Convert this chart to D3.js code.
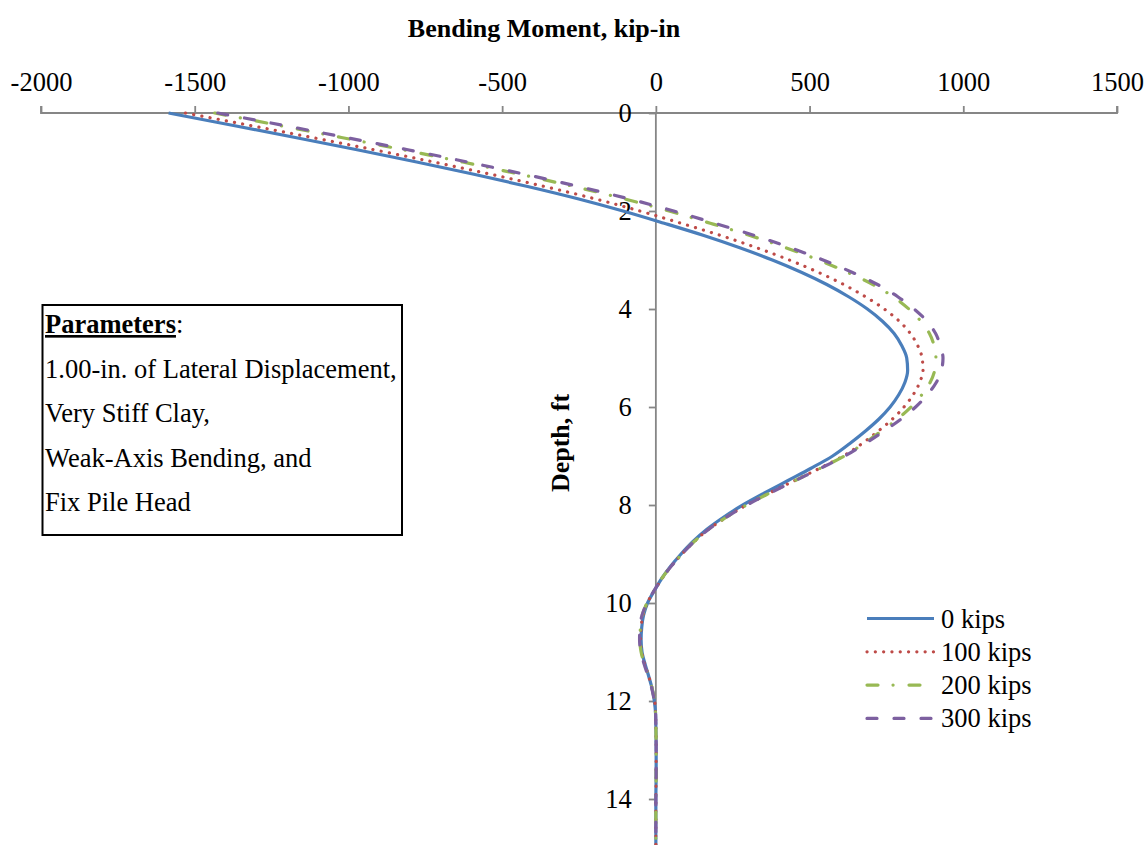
<!DOCTYPE html>
<html>
<head>
<meta charset="utf-8">
<script src="https://cdn.jsdelivr.net/npm/d3@7"></script>
<style>
  html, body { margin: 0; padding: 0; background: #fff; }
  svg { display: block; font-family: "Liberation Serif", "Times New Roman", serif; }
</style>
</head>
<body>
<svg id="chart" width="1148" height="845"></svg>
<script>
// ---- data ----
const depths = [0,0.25,0.5,0.75,1,1.25,1.5,1.75,2,2.25,2.5,2.75,3,3.25,3.5,3.75,4,4.25,4.5,4.75,5,5.25,5.5,5.75,6,6.25,6.5,6.75,7,7.25,7.5,7.75,8,8.25,8.5,8.75,9,9.25,9.5,9.75,10,10.25,10.5,10.75,11,11.25,11.5,11.75,12,12.25,12.5,13,13.5,14,14.5,15];
const m0   = [-1585,-1378,-1173,-972,-778,-592,-417,-254,-107,27,156,273,379,473,556,627,688,737,775,800,816,819,810,790,762,725,680,630,575,505,430,355,283,220,165,120,82,48,19,-5,-27,-40,-46,-48,-45,-35,-23,-12,-5,-1,0,1,1,0,0,0];
const m100 = [-1530,-1323,-1118,-917,-723,-537,-362,-199,-52,82,211,328,434,528,611,682,743,792,828,852,866,869,858,837,807,769,722,670,610,533,452,371,295,229,171,124,85,50,20,-5,-28,-42,-48,-50,-46,-36,-23,-12,-4,-1,0,1,1,0,0,0];
const m200 = [-1435,-1228,-1023,-822,-628,-442,-267,-104,43,177,306,423,529,623,706,772,823,862,890,905,911,907,892,865,830,785,732,675,613,535,453,372,295,229,171,124,85,50,19,-6,-29,-44,-50,-52,-48,-37,-24,-12,-4,-1,0,1,1,0,0,0];
const m300 = [-1425,-1213,-1008,-807,-613,-427,-252,-89,58,192,321,438,544,638,721,787,840,882,910,925,934,929,912,883,845,797,740,680,615,536,454,373,296,229,171,124,85,50,19,-6,-29,-45,-52,-53,-49,-38,-25,-13,-5,-1,0,1,1,0,0,0];
const seriesNames = ["0 kips","100 kips","200 kips","300 kips"];
const xTicks = [-2000,-1500,-1000,-500,0,500,1000,1500];
const yTicks = [0,2,4,6,8,10,12,14];
const xTitle = "Bending Moment, kip-in";
const yTitle = "Depth, ft";
const paramTitle = "Parameters";
const paramLines = ["1.00-in. of Lateral Displacement,","Very Stiff Clay,","Weak-Axis Bending, and","Fix Pile Head"];

// ---- styles ----
const colors = ["#4A7EBB","#BE4B48","#98B954","#7D60A0"];
const dashes = [null, "0.1,8.2", "11,15,0.1,15.9", "10,17"];
const caps = ["butt","round","round","round"];
const axisColor = "#868686";
const FS = 26.5;

const svg = d3.select("#chart");
const x = d3.scaleLinear().domain([-2000,1500]).range([41,1117]);
const y = d3.scaleLinear().domain([0,15]).range([113,848]);

svg.append("defs").append("clipPath").attr("id","clip")
  .append("rect").attr("x",0).attr("y",100).attr("width",1148).attr("height",760);

const fmt = d => String(d);

// X axis (top)
const gx = svg.append("g").attr("transform",`translate(0,${y(0)})`)
  .call(d3.axisTop(x).tickValues(xTicks).tickSize(7).tickPadding(15).tickFormat(fmt));
gx.selectAll("path,line").attr("stroke",axisColor).attr("stroke-width",1.8);
gx.selectAll("text").attr("fill","#000").style("font-size",FS+"px").style("font-family","Liberation Serif");
gx.select(".domain").attr("d",`M${x(-2000)},-7V0H${x(1500)}V-7`);

// Y axis at x=0
const gy = svg.append("g").attr("transform",`translate(${x(0)},0)`)
  .call(d3.axisLeft(y).tickValues(yTicks).tickSize(7).tickPadding(17).tickFormat(fmt));
gy.selectAll("path,line").attr("stroke",axisColor).attr("stroke-width",1.8);
gy.selectAll("text").attr("fill","#000").style("font-size",FS+"px").style("font-family","Liberation Serif");
gy.select(".domain").attr("d",`M-7,${y(0)}H0V${y(15)}`);

// titles
svg.append("text").attr("x",544).attr("y",37).attr("text-anchor","middle")
  .style("font-size","26px").style("font-weight","bold").text(xTitle);
svg.append("text").attr("transform",`translate(569,443) rotate(-90)`).attr("text-anchor","middle")
  .style("font-size","26px").style("font-weight","bold").text(yTitle);

// lines
const allM = [m0,m100,m200,m300];
const line = d3.line().x(d => x(d[1])).y(d => y(d[0])).curve(d3.curveMonotoneY);
const gl = svg.append("g").attr("clip-path","url(#clip)");
allM.forEach((m,i) => {
  const pts = depths.map((d,j) => [d, m[j]]);
  gl.append("path").datum(pts).attr("d",line)
    .attr("fill","none").attr("stroke",colors[i]).attr("stroke-width",3.2)
    .attr("stroke-dasharray",dashes[i]).attr("stroke-linecap",caps[i]).attr("stroke-linejoin","round");
});

// legend
const lg = svg.append("g");
seriesNames.forEach((n,i) => {
  const cy = 618.5 + i*33.3;
  lg.append("line").attr("x1",867).attr("x2",934).attr("y1",cy).attr("y2",cy)
    .attr("stroke",colors[i]).attr("stroke-width",3.2)
    .attr("stroke-dasharray",dashes[i]).attr("stroke-linecap",caps[i]);
  lg.append("text").attr("x",941).attr("y",cy).attr("dy","0.34em")
    .style("font-size",FS+"px").text(n);
});

// parameters box
const pb = svg.append("g");
pb.append("rect").attr("x",42.5).attr("y",305).attr("width",359.5).attr("height",230)
  .attr("fill","#fff").attr("stroke","#000").attr("stroke-width",2);
const t0 = pb.append("text").attr("x",45).attr("y",333).style("font-size",FS+"px");
t0.append("tspan").style("font-weight","bold").style("text-decoration","underline").text(paramTitle);
t0.append("tspan").text(":");
paramLines.forEach((s,i) => {
  pb.append("text").attr("x",45).attr("y",378 + i*44.3).style("font-size",FS+"px").text(s);
});
</script>
</body>
</html>
